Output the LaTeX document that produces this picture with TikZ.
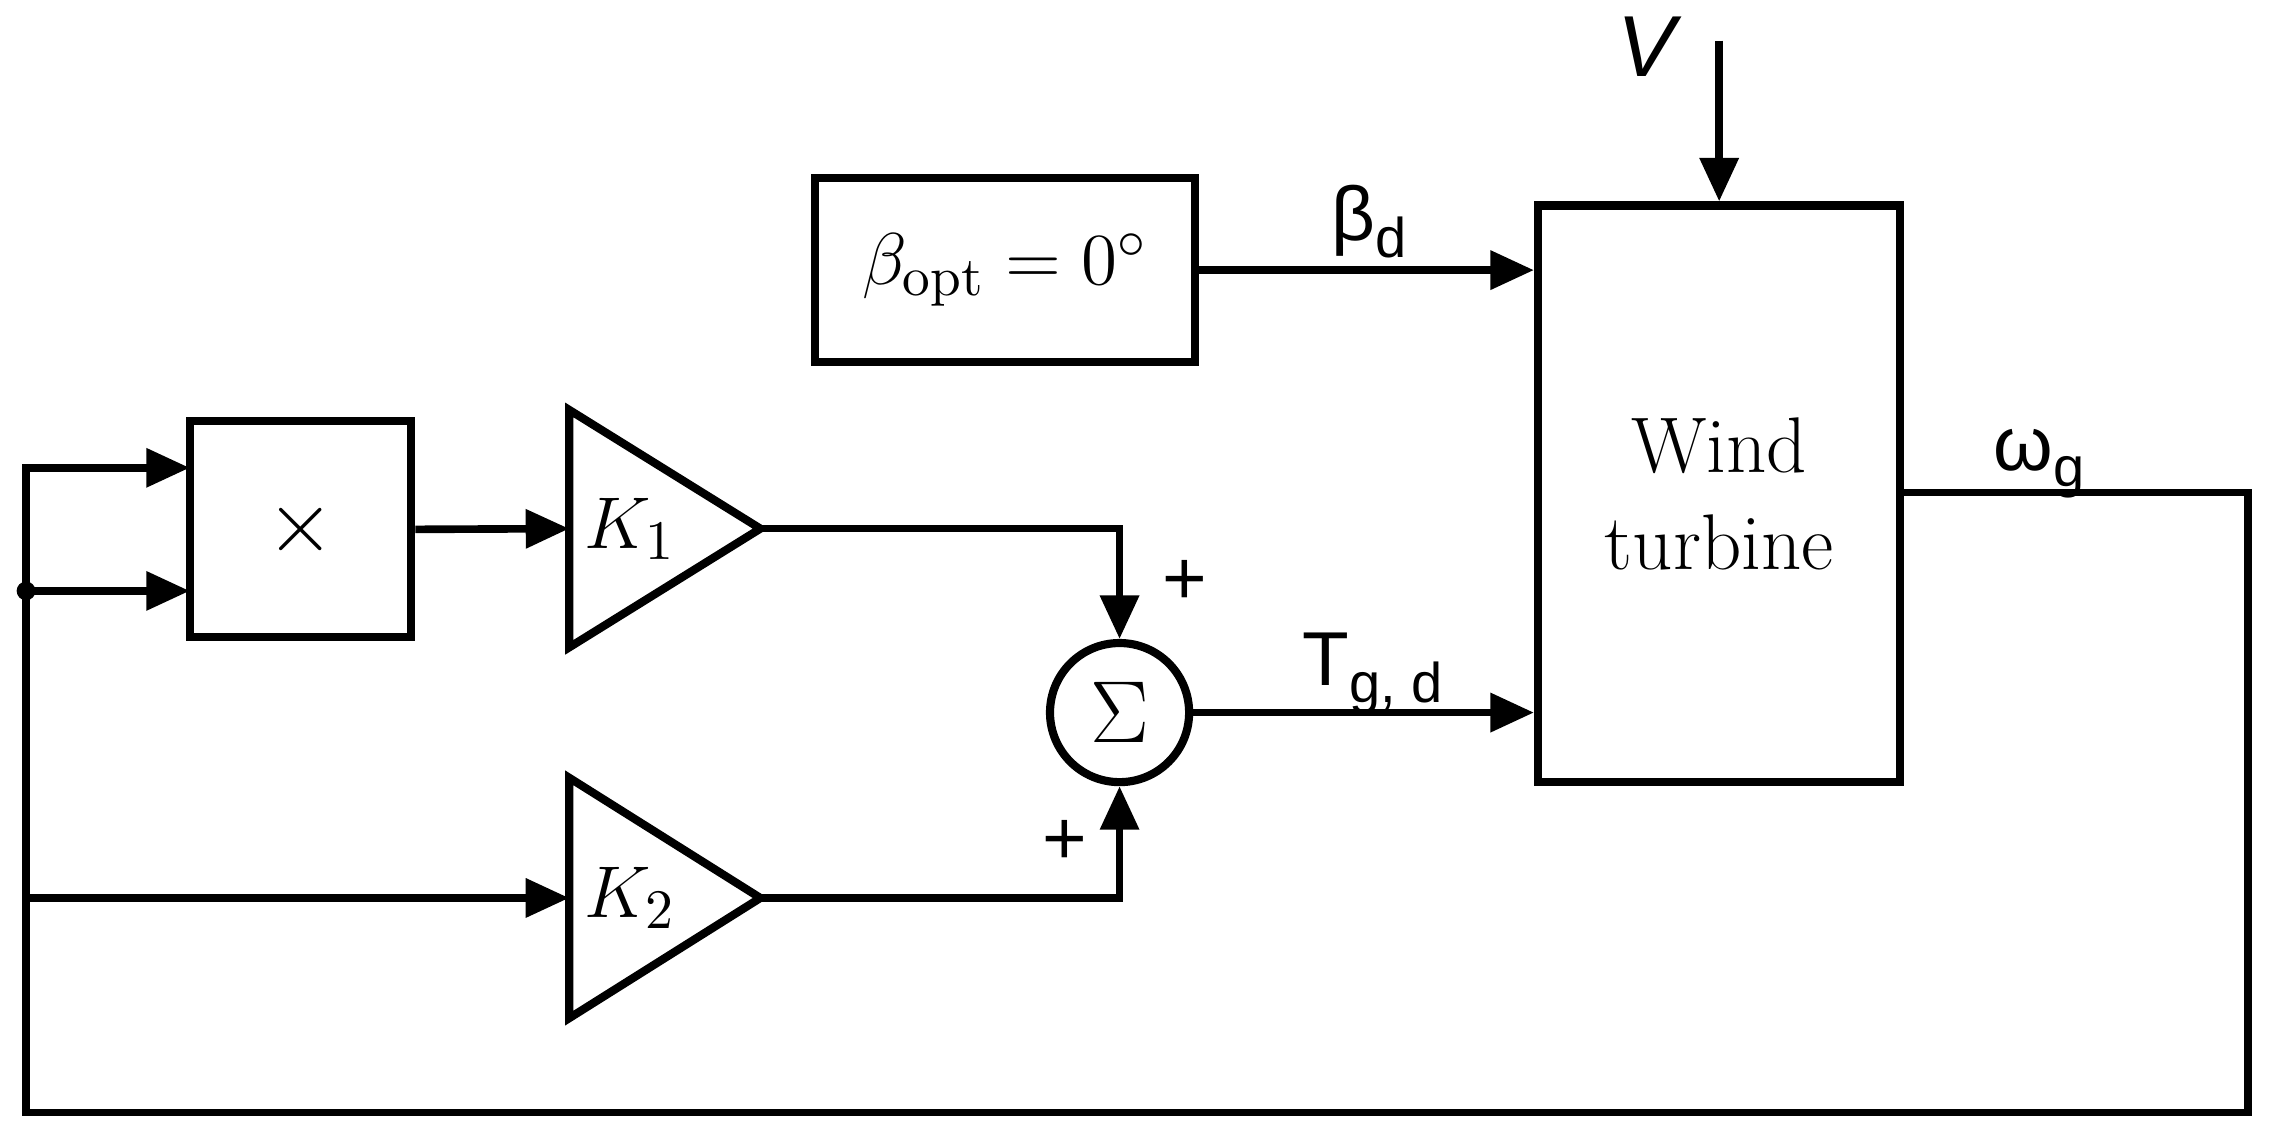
\documentclass[tikz,border=0pt]{standalone}
\usepackage{fontspec}
\newfontfamily\lsans{Liberation Sans}
\usetikzlibrary{arrows.meta}
\begin{document}
\begin{tikzpicture}[x=0.01cm,y=-0.01cm,line width=1.5pt,
  box/.style={draw,line width=1.6pt,inner sep=0pt},
  arr/.style={-{Triangle[length=0.3cm,width=0.26cm]}},
  lab/.style={font=\lsans\fontsize{15}{17}\selectfont},
  rm/.style={font=\fontsize{15.5}{19}\selectfont}]
\useasboundingbox (0,0) rectangle (1568,782);
% blocks
\node[box,minimum width=2.62cm,minimum height=1.27cm,rm] (beta) at (694,186.5) {$\beta_{\mathrm{opt}}=0^\circ$};
\node[box,minimum width=2.5cm,minimum height=3.98cm,rm,align=center] (wt) at (1187,341) {Wind\\turbine};
\node[box,minimum width=1.53cm,minimum height=1.49cm,font=\fontsize{19}{20}\selectfont] (mul) at (207.5,365.5) {$\times$};
\node[box,circle,minimum size=0.96cm,font=\fontsize{19}{20}\selectfont] (sum) at (773,492) {$\Sigma$};
\draw[line width=1.6pt] (393,283) -- (525,365) -- (393,447) -- cycle;
\node[rm] (k1) at (435,365) {$K_1$};
\draw[line width=1.6pt] (393,537) -- (525,620) -- (393,703) -- cycle;
\node[rm] (k2) at (435,620) {$K_2$};
\coordinate (k1in) at (393,365); \coordinate (k1out) at (525,365);
\coordinate (k2in) at (393,620); \coordinate (k2out) at (525,620);
\coordinate (vtop) at (1187,28);
\coordinate (dot) at (18,408);
% connectors
\draw[arr] (vtop) -- (wt.north);
\node[font=\lsans\itshape\fontsize{17}{19}\selectfont] (v) at (1137,32) {V};
\draw[arr] (beta.east) -- (beta.east -| wt.west);
\node[lab] (bd) at (945,153) {β\raisebox{-0.4ex}{\fontsize{11}{13}\selectfont d}};
\draw[arr] (mul.east) -- (k1in);
\draw[arr] (k1out) -| (sum.north);
\draw[arr] (k2out) -| (sum.south);
\node[lab] (p1) at (818,402) {+};
\node[lab] (p2) at (735,582) {+};
\draw[arr] (sum.east) -- (sum.east -| wt.west);
\node[lab] (tg) at (948,465) {T\raisebox{-0.4ex}{\fontsize{11}{13}\selectfont g, d}};
\draw[arr] (wt.east |- 0,340) -- (1552,340) -- (1552,768) -- (18,768) -- (18,323) -- (131,323);
\draw[arr] (dot) -- (131,408);
\draw[arr] (18,620) -- (k2in);
\fill (dot) circle (0.065cm);
\node[lab] (wg) at (1408,320) {ω\raisebox{-0.4ex}{\fontsize{11}{13}\selectfont g}};
\end{tikzpicture}
\end{document}
